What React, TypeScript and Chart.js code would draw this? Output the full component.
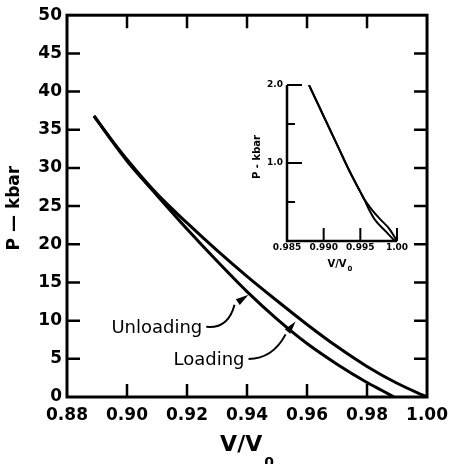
import React, { useEffect, useRef } from "react";
import { Chart, registerables } from "chart.js";
Chart.register(...registerables);

// ---- main chart data ----
const loadingV = [0.889, 0.895, 0.9, 0.91, 0.92, 0.93, 0.94, 0.95, 0.96, 0.97, 0.98, 0.99, 1.0];
const loadingP = [36.8, 33.6, 31.1, 26.6, 22.8, 19.2, 15.8, 12.6, 9.5, 6.6, 4.0, 1.8, 0];
const unloadingV = [0.889, 0.895, 0.9, 0.905, 0.91, 0.92, 0.93, 0.94, 0.95, 0.96, 0.97, 0.98, 0.985, 0.989];
const unloadingP = [36.8, 33.5, 30.9, 28.6, 26.4, 22.0, 17.8, 13.8, 10.2, 7.0, 4.3, 1.9, 0.85, 0];

const xTickValues = [0.88, 0.9, 0.92, 0.94, 0.96, 0.98, 1.0];
const xTickLabels = ["0.88", "0.90", "0.92", "0.94", "0.96", "0.98", "1.00"];
const yTickValues = [0, 5, 10, 15, 20, 25, 30, 35, 40, 45, 50];
const yTickLabels = ["0", "5", "10", "15", "20", "25", "30", "35", "40", "45", "50"];

// ---- inset data ----
const insetLoadingV = [0.988, 0.99, 0.992, 0.9935, 0.995, 0.9955, 0.9965, 0.9976, 0.999, 1.0];
const insetLoadingP = [2.0, 1.6, 1.2, 0.9, 0.63, 0.54, 0.41, 0.29, 0.15, 0];
const insetUnloadingV = [0.988, 0.99, 0.992, 0.9935, 0.995, 0.9955, 0.9962, 0.997, 0.9985, 0.9997];
const insetUnloadingP = [2.0, 1.6, 1.2, 0.9, 0.63, 0.54, 0.4, 0.27, 0.12, 0];

const insetXTickValues = [0.985, 0.99, 0.995, 1.0];
const insetXTickLabels = ["0.985", "0.990", "0.995", "1.00"];
const insetYTickValues = [0, 0.5, 1.0, 1.5, 2.0];
const insetYTickLabels = ["", "", "1.0", "", "2.0"];

const FONT = "DejaVu Sans";

const pts = (xs: number[], ys: number[]) => xs.map((x, i) => ({ x, y: ys[i] }));

function arrowHead(ctx: CanvasRenderingContext2D, fromX: number, fromY: number, toX: number, toY: number, len: number, half: number) {
  const a = Math.atan2(toY - fromY, toX - fromX);
  const bx = toX - len * Math.cos(a);
  const by = toY - len * Math.sin(a);
  ctx.beginPath();
  ctx.moveTo(toX, toY);
  ctx.lineTo(bx + half * Math.sin(a), by - half * Math.cos(a));
  ctx.lineTo(bx - half * Math.sin(a), by + half * Math.cos(a));
  ctx.closePath();
  ctx.fill();
}

const mainDecor = {
  id: "mainDecor",
  afterDraw(chart: any) {
    const { ctx, chartArea: a, scales } = chart;
    const xs = scales.x;
    const ys = scales.y;
    ctx.save();
    ctx.strokeStyle = "#000";
    ctx.fillStyle = "#000";
    // frame
    ctx.lineWidth = 3;
    ctx.strokeRect(a.left, a.top, a.right - a.left, a.bottom - a.top);
    // inward ticks
    ctx.lineWidth = 2.5;
    const L = 13;
    ctx.beginPath();
    xTickValues.slice(1, -1).forEach((v) => {
      const px = xs.getPixelForValue(v);
      ctx.moveTo(px, a.bottom);
      ctx.lineTo(px, a.bottom - L);
      ctx.moveTo(px, a.top);
      ctx.lineTo(px, a.top + L);
    });
    yTickValues.slice(1, -1).forEach((v) => {
      const py = ys.getPixelForValue(v);
      ctx.moveTo(a.left, py);
      ctx.lineTo(a.left + L, py);
      ctx.moveTo(a.right, py);
      ctx.lineTo(a.right - L, py);
    });
    ctx.stroke();

    // axis titles
    ctx.font = `bold 17px ${FONT}`;
    ctx.textAlign = "center";
    ctx.textBaseline = "middle";
    ctx.save();
    ctx.translate(15, (a.top + a.bottom) / 2 + 2);
    ctx.rotate(-Math.PI / 2);
    ctx.fillText("P \u2014 kbar", 0, 0);
    ctx.restore();

    const cx = (a.left + a.right) / 2;
    ctx.font = `bold 22px ${FONT}`;
    ctx.textAlign = "left";
    ctx.textBaseline = "alphabetic";
    const main = "V/V";
    const w = ctx.measureText(main).width;
    ctx.font = `bold 14px ${FONT}`;
    const ws = ctx.measureText("0").width;
    const sx = cx - (w + ws + 2) / 2;
    ctx.font = `bold 22px ${FONT}`;
    ctx.fillText(main, sx, 451);
    ctx.font = `bold 14px ${FONT}`;
    ctx.fillText("0", sx + w + 2, 467);

    // annotations
    ctx.font = `18px ${FONT}`;
    ctx.textAlign = "left";
    ctx.textBaseline = "alphabetic";
    const uX = xs.getPixelForValue(0.8948);
    const uY = ys.getPixelForValue(8.4);
    ctx.fillText("Unloading", uX, uY);
    const lX = xs.getPixelForValue(0.9155);
    const lY = ys.getPixelForValue(4.2);
    ctx.fillText("Loading", lX, lY);

    ctx.lineWidth = 2;
    // Unloading arrow -> lower curve
    const utx = xs.getPixelForValue(0.9405);
    const uty = ys.getPixelForValue(13.4);
    const us = { x: uX + ctx.measureText("Unloading").width + 4, y: uY - 6 };
    ctx.beginPath();
    ctx.moveTo(us.x, us.y);
    ctx.quadraticCurveTo(us.x + 22, us.y + 2, utx - 14, uty + 10);
    ctx.stroke();
    arrowHead(ctx, utx - 16, uty + 11, utx, uty, 13, 3.5);

    // Loading arrow -> upper curve
    const ltx = xs.getPixelForValue(0.9562);
    const lty = ys.getPixelForValue(9.9);
    const ls = { x: lX + ctx.measureText("Loading").width + 4, y: lY - 6 };
    ctx.beginPath();
    ctx.moveTo(ls.x, ls.y);
    ctx.quadraticCurveTo(ls.x + 24, ls.y, ltx - 10, lty + 13);
    ctx.stroke();
    arrowHead(ctx, ltx - 12, lty + 15, ltx, lty, 13, 3.5);
    ctx.restore();
  },
};

const insetDecor = {
  id: "insetDecor",
  afterDraw(chart: any) {
    const { ctx, chartArea: a, scales } = chart;
    const xs = scales.x;
    const ys = scales.y;
    ctx.save();
    ctx.strokeStyle = "#000";
    ctx.fillStyle = "#000";
    ctx.lineWidth = 2.5;
    ctx.beginPath();
    ctx.moveTo(a.left, a.top);
    ctx.lineTo(a.left, a.bottom);
    ctx.lineTo(a.right, a.bottom);
    ctx.stroke();
    ctx.lineWidth = 2;
    ctx.beginPath();
    insetYTickValues.slice(1).forEach((v, i) => {
      const py = ys.getPixelForValue(v);
      const len = insetYTickLabels[i + 1] ? 15 : 8;
      ctx.moveTo(a.left, py);
      ctx.lineTo(a.left + len, py);
    });
    insetXTickValues.slice(1).forEach((v) => {
      const px = xs.getPixelForValue(v);
      ctx.moveTo(px, a.bottom);
      ctx.lineTo(px, a.bottom - 13);
    });
    ctx.stroke();

    ctx.font = `bold 10px ${FONT}`;
    ctx.textAlign = "center";
    ctx.textBaseline = "middle";
    ctx.save();
    ctx.translate(17, 87);
    ctx.rotate(-Math.PI / 2);
    ctx.fillText("P - kbar", 0, 0);
    ctx.restore();

    ctx.textAlign = "left";
    ctx.textBaseline = "alphabetic";
    const w = ctx.measureText("V/V").width;
    const sx = 100 - (w + 6) / 2;
    ctx.fillText("V/V", sx, 197);
    ctx.font = `bold 7px ${FONT}`;
    ctx.fillText("0", sx + w + 1, 201);
    ctx.restore();
  },
};

export default function App() {
  const mainRef = useRef<HTMLCanvasElement>(null);
  const insetRef = useRef<HTMLCanvasElement>(null);

  useEffect(() => {
    const tickFont = { family: FONT, size: 17, weight: "bold" as const };
    const main = new Chart(mainRef.current!, {
      type: "line",
      data: {
        datasets: [
          {
            label: "Loading",
            data: pts(loadingV, loadingP),
            borderColor: "#000",
            borderWidth: 3,
            pointRadius: 0,
            fill: false,
            cubicInterpolationMode: "monotone",
          },
          {
            label: "Unloading",
            data: pts(unloadingV, unloadingP),
            borderColor: "#000",
            borderWidth: 3,
            pointRadius: 0,
            fill: false,
            cubicInterpolationMode: "monotone",
          },
        ],
      },
      options: {
        animation: false,
        responsive: false,
        layout: { padding: { top: 12, right: 24, left: 0, bottom: 0 } },
        plugins: { legend: { display: false }, tooltip: { enabled: false } },
        scales: {
          x: {
            type: "linear",
            min: 0.88,
            max: 1.0,
            afterBuildTicks: (s: any) => {
              s.ticks = xTickValues.map((v) => ({ value: v }));
            },
            afterFit: (s: any) => {
              s.height = 67;
            },
            grid: { display: false, drawTicks: false },
            border: { display: false },
            ticks: {
              autoSkip: false,
              maxRotation: 0,
              padding: 8,
              color: "#000",
              font: tickFont,
              callback: (_v: any, i: number) => xTickLabels[i],
            },
          },
          y: {
            type: "linear",
            min: 0,
            max: 50,
            afterBuildTicks: (s: any) => {
              s.ticks = yTickValues.map((v) => ({ value: v }));
            },
            afterFit: (s: any) => {
              s.width = 67;
            },
            grid: { display: false, drawTicks: false },
            border: { display: false },
            ticks: {
              autoSkip: false,
              padding: 5,
              color: "#000",
              font: tickFont,
              callback: (_v: any, i: number) => yTickLabels[i],
            },
          },
        },
      },
      plugins: [mainDecor],
    } as any);

    const insetFont = { family: FONT, size: 9, weight: "bold" as const };
    const inset = new Chart(insetRef.current!, {
      type: "line",
      data: {
        datasets: [
          {
            label: "Loading",
            data: pts(insetLoadingV, insetLoadingP),
            borderColor: "#000",
            borderWidth: 2,
            pointRadius: 0,
            fill: false,
            cubicInterpolationMode: "monotone",
          },
          {
            label: "Unloading",
            data: pts(insetUnloadingV, insetUnloadingP),
            borderColor: "#000",
            borderWidth: 2,
            pointRadius: 0,
            fill: false,
            cubicInterpolationMode: "monotone",
          },
        ],
      },
      options: {
        animation: false,
        responsive: false,
        layout: { padding: { top: 15, right: 23, left: 0, bottom: 0 } },
        plugins: { legend: { display: false }, tooltip: { enabled: false } },
        scales: {
          x: {
            type: "linear",
            min: 0.985,
            max: 1.0,
            afterBuildTicks: (s: any) => {
              s.ticks = insetXTickValues.map((v) => ({ value: v }));
            },
            afterFit: (s: any) => {
              s.height = 34;
            },
            grid: { display: false, drawTicks: false },
            border: { display: false },
            ticks: {
              autoSkip: false,
              maxRotation: 0,
              padding: 1,
              color: "#000",
              font: insetFont,
              callback: (_v: any, i: number) => insetXTickLabels[i],
            },
          },
          y: {
            type: "linear",
            min: 0,
            max: 2.0,
            afterBuildTicks: (s: any) => {
              s.ticks = insetYTickValues.map((v) => ({ value: v }));
            },
            afterFit: (s: any) => {
              s.width = 47;
            },
            grid: { display: false, drawTicks: false },
            border: { display: false },
            ticks: {
              autoSkip: false,
              padding: 4,
              color: "#000",
              font: insetFont,
              callback: (_v: any, i: number) => insetYTickLabels[i],
            },
          },
        },
      },
      plugins: [insetDecor],
    } as any);

    return () => {
      main.destroy();
      inset.destroy();
    };
  }, []);

  return (
    <div style={{ position: "absolute", left: 0, top: 0, width: 456, height: 464, background: "#fff", overflow: "hidden" }}>
      <canvas ref={mainRef} width={456} height={464} style={{ position: "absolute", left: 0, top: 0, width: 456, height: 464 }} />
      <canvas ref={insetRef} width={180} height={205} style={{ position: "absolute", left: 240, top: 70, width: 180, height: 205 }} />
    </div>
  );
}
